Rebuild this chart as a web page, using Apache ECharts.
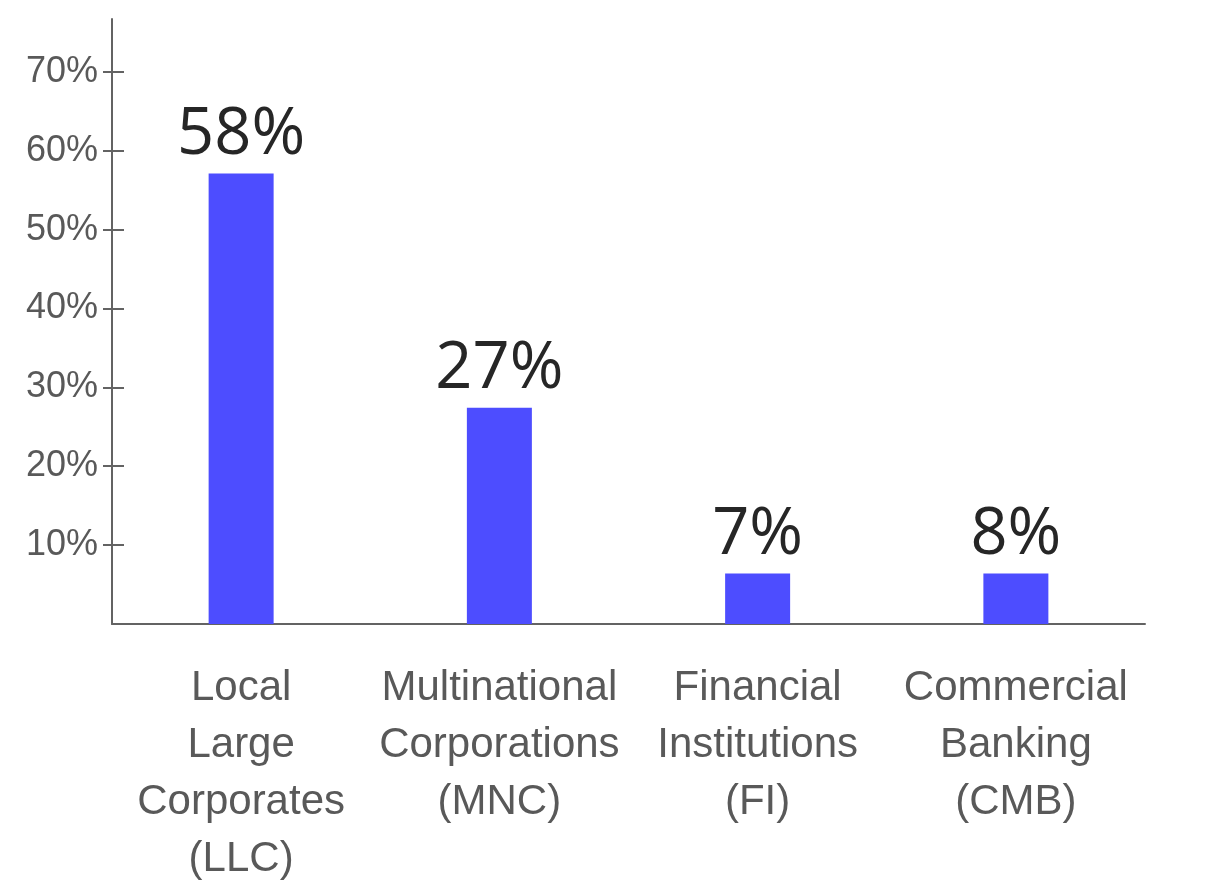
<!DOCTYPE html>
<html>
<head>
<meta charset="utf-8">
<script src="https://cdn.jsdelivr.net/npm/echarts@6/dist/echarts.min.js"></script>
<style>
  html, body { margin: 0; padding: 0; background: #fff; }
  #chart { width: 1205px; height: 883px; }
</style>
</head>
<body>
<div id="chart"></div>
<script>
// categories on the x axis (line breaks as in the picture)
const categories = [
  'Local\nLarge\nCorporates\n(LLC)',
  'Multinational\nCorporations\n(MNC)',
  'Financial\nInstitutions\n(FI)',
  'Commercial\nBanking\n(CMB)'
]
// bar heights as drawn (percent)
const barValues = [57.1, 27.4, 6.4, 6.4]
// the text printed above each bar
const barLabels = ['58%', '27%', '7%', '8%']
// y tick labels
const yTicks = [10, 20, 30, 40, 50, 60, 70]

const axisGray = '#636363'
const textGray = '#595959'

const chart = echarts.init(document.getElementById('chart'))

const yBase = {
  type: 'value',
  min: 0,
  max: 76.7,
  splitLine: { show: false }
}

const option = {
  animation: false,
  grid: {
    left: 112,
    right: 60,
    top: 19,
    bottom: 259,
    containLabel: false,
    outerBoundsMode: 'none'
  },
  xAxis: {
    type: 'category',
    data: categories,
    axisLine: { lineStyle: { color: axisGray, width: 2 } },
    axisTick: { show: false },
    axisLabel: {
      interval: 0,
      margin: 36,
      fontFamily: 'Liberation Sans, Arial, sans-serif',
      fontSize: 42,
      lineHeight: 57,
      color: textGray,
      align: 'center'
    }
  },
  yAxis: [
    Object.assign({}, yBase, {
      axisLine: { show: true, lineStyle: { color: axisGray, width: 2 } },
      axisTick: {
        show: true,
        inside: false,
        length: 9,
        customValues: yTicks,
        lineStyle: { color: axisGray, width: 2 }
      },
      axisLabel: {
        customValues: yTicks,
        margin: 14,
        fontFamily: 'Liberation Sans, Arial, sans-serif',
        fontSize: 36,
        color: textGray,
        formatter: v => v + '%'
      }
    }),
    Object.assign({}, yBase, {
      position: 'left',
      axisLine: { show: false },
      axisTick: {
        show: true,
        inside: true,
        length: 12,
        customValues: yTicks,
        lineStyle: { color: axisGray, width: 2 }
      },
      axisLabel: { show: false }
    })
  ],
  series: [{
    type: 'bar',
    yAxisIndex: 0,
    barWidth: 65,
    data: barValues,
    itemStyle: { color: '#4d4dff' },
    label: {
      show: true,
      position: 'top',
      distance: 6,
      fontFamily: 'Open Sans, Noto Sans, sans-serif',
      fontSize: 65,
      color: '#262626',
      formatter: p => barLabels[p.dataIndex]
    }
  }]
}

chart.setOption(option)
</script>
</body>
</html>
